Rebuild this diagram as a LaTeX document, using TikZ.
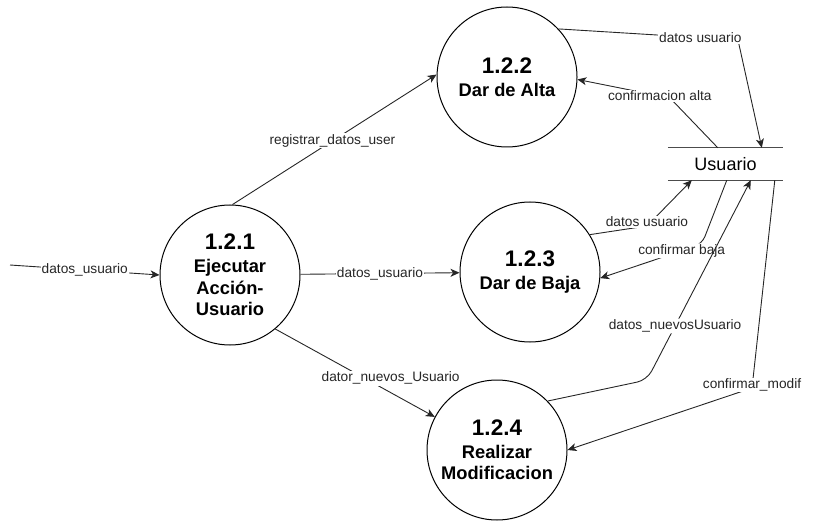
\documentclass[tikz,border=0pt]{standalone}
\usepackage{fontspec}
\setmainfont{Liberation Sans}
\usetikzlibrary{arrows.meta}

\newcommand{\procnum}[1]{{\fontsize{22.5}{26}\selectfont #1}\\[1pt]}

\begin{document}
\begin{tikzpicture}[x=1pt,y=-1pt,
    proc/.style={draw,circle,line width=1pt,minimum size=140pt,inner sep=0pt,align=center,
        font=\bfseries\fontsize{18.3}{21.7}\selectfont},
    line/.style={line width=0.9pt,black!85},
    flow/.style={line,-{Stealth[length=9pt,width=8pt,inset=2.5pt]}},
    lbl/.style={fill=white,inner sep=1pt,font=\fontsize{13.7}{16}\selectfont}]
    \useasboundingbox (0,0) rectangle (821,529);

    % procesos
    \node [proc] (n121) at (230,275) {\procnum{1.2.1}Ejecutar\\Acción-\\Usuario};
    \node [proc] (n122) at (507,77) {\procnum{1.2.2}Dar de Alta};
    \node [proc] (n123) at (530,272) {\procnum{1.2.3}Dar de Baja};
    \node [proc] (n124) at (497,450) {\procnum{1.2.4}Realizar\\Modificacion};

    % almacen
    \node [minimum width=115pt,minimum height=32pt,inner sep=0pt,font=\fontsize{18}{20}\selectfont] (usr) at (725.5,164) {Usuario};
    \draw [line width=1.2pt,black!70] (usr.north west) -- (usr.north east) (usr.south west) -- (usr.south east);

    \coordinate (in) at (10,265);
    \draw [flow] (in) -- node [lbl] {datos\_usuario} (n121.west);
    \draw [flow] (n121.88) -- node [lbl,pos=0.49] {registrar\_datos\_user} (n122.178);
    \draw [flow] (n121) -- node [lbl] {datos\_usuario} (n123);
    \draw [flow] (n121.-50) -- node [lbl,pos=0.56,xshift=26pt] {dator\_nuevos\_Usuario} (n124.152);

    \draw [flow] (n122.43) -- node [lbl,pos=0.79] {datos usuario} (738,40) -- ([xshift=94pt]usr.north west);
    \draw [flow] ([xshift=50pt]usr.north west) -- (670,98) -- node [lbl,pos=0.11] {confirmacion alta} (n122.-2);
    \draw [flow] (n123.32) -- (647,226) -- node [lbl,pos=0,yshift=4pt] {datos usuario} ([xshift=24pt]usr.south west);
    \draw [flow,rounded corners=8pt] ([xshift=59pt]usr.south west) -- (702,244) -- node [lbl,pos=0.2] {confirmar baja} (n123.-5);
    \draw [flow,rounded corners=10pt] (n124.44) -- (647,380) -- node [lbl,pos=0.27] {datos\_nuevosUsuario} ([xshift=83pt]usr.south west);
    \draw [flow] ([xshift=107pt]usr.south west) -- (752,388) -- node [lbl,pos=0,yshift=3pt] {confirmar\_modif} (n124.east);
\end{tikzpicture}
\end{document}
